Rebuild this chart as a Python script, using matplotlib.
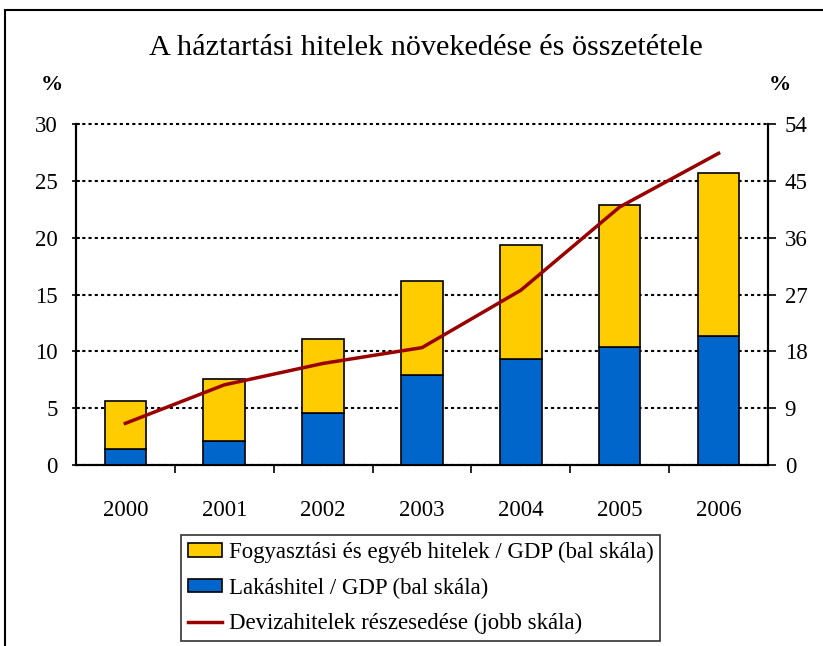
import matplotlib.pyplot as plt
import numpy as np
from matplotlib.patches import Rectangle

years = ['2000', '2001', '2002', '2003', '2004', '2005', '2006']
lakashitel = [1.4, 2.1, 4.55, 7.9, 9.35, 10.35, 11.35]        # Lakáshitel / GDP
total = [5.6, 7.55, 11.1, 16.2, 19.4, 22.85, 25.7]             # bar tops
fogyasztasi = [t - l for t, l in zip(total, lakashitel)]        # Fogyasztási és egyéb / GDP
deviza = [6.6, 12.7, 16.1, 18.6, 27.7, 40.9, 49.4]              # right scale

plt.rcParams['font.family'] = 'Liberation Serif'

fig = plt.figure(figsize=(8.23, 6.46), dpi=100)
ax = fig.add_axes([0.0923, 0.2802, 0.8409, 0.5274])
ax2 = ax.twinx()

x = np.arange(len(years))
ax.bar(x, lakashitel, width=0.42, color='#0066CC', edgecolor='black', linewidth=1.2, zorder=3,
       label='Lakáshitel / GDP (bal skála)')
ax.bar(x, fogyasztasi, width=0.42, bottom=lakashitel, color='#FFCC00', edgecolor='black',
       linewidth=1.2, zorder=3, label='Fogyasztási és egyéb hitelek / GDP (bal skála)')
ax2.plot(x, deviza, color='#990000', linewidth=2.5, zorder=4,
         label='Devizahitelek részesedése (jobb skála)')

ax.set_xlim(-0.5, len(years) - 0.5)
ax.set_ylim(0, 30)
ax.set_yticks(range(0, 31, 5))
ax2.set_ylim(0, 54)
ax2.set_yticks(range(0, 55, 9))

ax.set_xticks(x)
ax.set_xticklabels(years)
ax.set_xticks(np.arange(0.5, len(years) - 1, 1), minor=True)
ax.tick_params(axis='x', which='major', length=0, pad=25, labelsize=16.5)
ax.tick_params(axis='x', which='minor', length=6, width=1.2, direction='out')
ax.tick_params(axis='y', length=6, width=1.2, direction='inout', labelsize=16.5, pad=10)
ax2.tick_params(axis='y', length=6, width=1.2, direction='out', labelsize=16.5, pad=6)

for s in ['top']:
    ax.spines[s].set_visible(False)
    ax2.spines[s].set_visible(False)
for a in (ax, ax2):
    for s in ['left', 'right', 'bottom']:
        a.spines[s].set_linewidth(1.5)

ax.yaxis.grid(True, linestyle=(0, (1.5, 1.5)), color='black', linewidth=1.5, zorder=0)
ax.set_axisbelow(True)
for gl in ax.yaxis.get_gridlines():
    gl.set_clip_on(False)

ax.set_zorder(ax2.get_zorder() - 1)
ax2.patch.set_visible(False)
ax.patch.set_visible(True)

fig.text(0.517, 0.925, 'A háztartási hitelek növekedése és összetétele', ha='center', va='center',
         fontsize=21.8)
fig.text(0.063, 0.868, '%', ha='center', va='center', fontsize=16, fontweight='bold')
fig.text(0.948, 0.868, '%', ha='center', va='center', fontsize=16, fontweight='bold')

h1, l1 = ax.get_legend_handles_labels()
h2, l2 = ax2.get_legend_handles_labels()
leg = fig.legend([h1[1], h1[0], h2[0]], [l1[1], l1[0], l2[0]], loc='upper left',
                 bbox_to_anchor=(0.22, 0.172), fontsize=16.4, frameon=True, fancybox=False,
                 edgecolor='black', handlelength=1.5, handleheight=0.55, handletextpad=0.3,
                 borderpad=0.3, labelspacing=0.64, borderaxespad=0)
leg.get_frame().set_linewidth(1.2)

fig.patches.append(Rectangle((0.006, -0.1), 1.1, 1.085, transform=fig.transFigure,
                             fill=False, edgecolor='black', linewidth=1.5))

fig.savefig('out.png', dpi=100)
